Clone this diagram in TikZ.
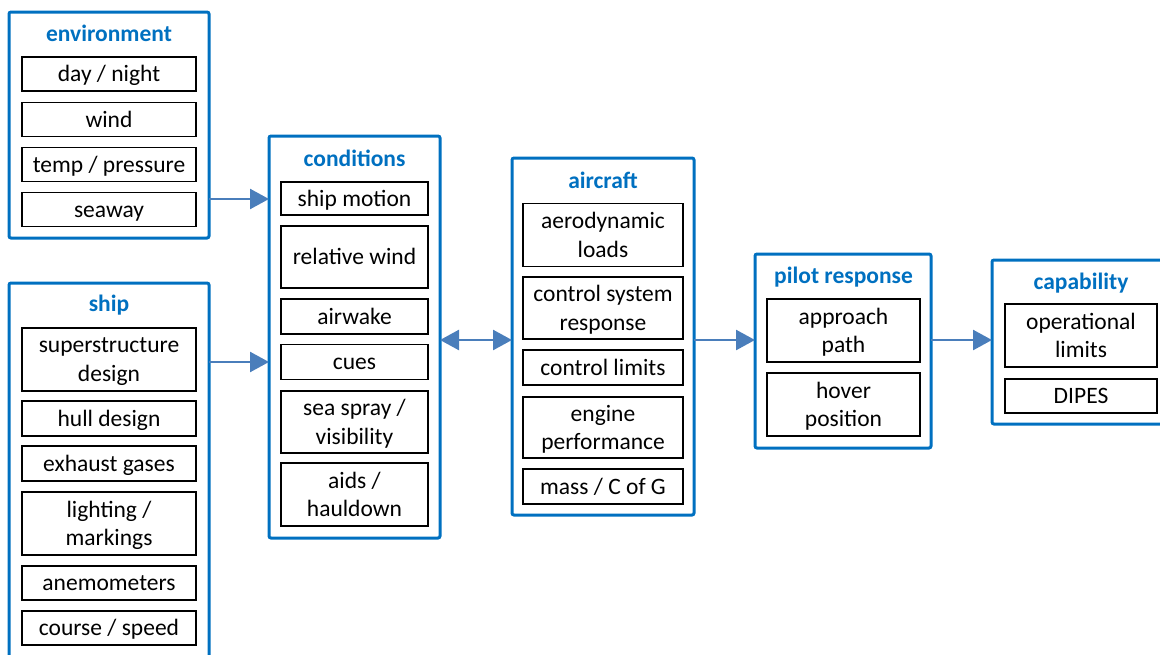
\documentclass[tikz,border=0pt]{standalone}
\usepackage{fontspec}
\setmainfont{Carlito}
\usetikzlibrary{arrows.meta}

\definecolor{boxblue}{RGB}{0,112,192}
\definecolor{arrowblue}{RGB}{74,126,187}
\newcommand{\bodysize}{\fontsize{23.5}{28.5}\selectfont}

\begin{document}
\begin{tikzpicture}[
    x=1pt, y=-1pt,
    group_style/.style={draw=boxblue, line width=3pt, rounded corners=2pt, anchor=north west, inner sep=0pt, outer sep=0pt},
    title_style/.style={font=\bodysize\bfseries, text=boxblue},
    item_style/.style={draw=black, line width=1.4pt, align=center, inner sep=0pt, font=\bodysize},
    one_line/.style={text height=17pt, text depth=2pt},
    two_line/.style={text depth=0pt},
    envitem/.style={item_style, minimum width=174pt},
    conditem/.style={item_style, minimum width=147pt},
    airitem/.style={item_style, minimum width=160pt},
    pilotitem/.style={item_style, minimum width=153pt},
    capitem/.style={item_style, minimum width=152pt},
    flow_style/.style={-{Triangle[length=19pt, width=20pt]}, line width=2.5pt, arrowblue},
    both_style/.style={{Triangle[length=19pt, width=20pt]}-{Triangle[length=19pt, width=20pt]}, line width=2.5pt, arrowblue}
]

    \useasboundingbox (0,0) rectangle (1160,654);
    \clip (0,0) rectangle (1160,654);

    % Environment
    \node[group_style, minimum width=200pt, minimum height=226pt] (env) at (9,12) {};
    \node[title_style] (envtitle) at (109,33) {environment};
    \node[envitem, one_line, minimum height=34pt] (daynight) at (109,74) {day / night};
    \node[envitem, one_line, minimum height=34pt] (wind) at (109,119.5) {wind};
    \node[envitem, one_line, minimum height=34pt] (temp) at (109,164.5) {temp / pressure};
    \node[envitem, one_line, minimum height=34pt] (seaway) at (109,209.5) {seaway};

    % Ship (runs past the bottom edge)
    \node[group_style, minimum width=200pt, minimum height=420pt] (ship) at (9,283) {};
    \node[title_style] (shiptitle) at (109,305) {ship};
    \node[envitem, two_line, minimum height=63pt] (super) at (109,359.5) {superstructure\\design};
    \node[envitem, one_line, minimum height=35pt] (hull) at (109,418.5) {hull design};
    \node[envitem, one_line, minimum height=35pt] (exhaust) at (109,463.5) {exhaust gases};
    \node[envitem, two_line, minimum height=63pt] (lighting) at (109,523.5) {lighting /\\markings};
    \node[envitem, one_line, minimum height=34pt] (anemo) at (109,583) {anemometers};
    \node[envitem, one_line, minimum height=34pt] (course) at (109,628) {course / speed};

    % Conditions
    \node[group_style, minimum width=171pt, minimum height=402pt] (cond) at (269,136) {};
    \node[title_style] (condtitle) at (354.5,158) {conditions};
    \node[conditem, one_line, minimum height=33pt] (motion) at (354.5,198.5) {ship motion};
    \node[conditem, one_line, minimum height=62pt] (relwind) at (354.5,257) {relative wind};
    \node[conditem, one_line, minimum height=35pt] (airwake) at (354.5,316.5) {airwake};
    \node[conditem, one_line, minimum height=35pt] (cues) at (354.5,362) {cues};
    \node[conditem, two_line, minimum height=62pt] (spray) at (354.5,422) {sea spray /\\visibility};
    \node[conditem, two_line, minimum height=63pt] (aids) at (354.5,494.5) {aids /\\hauldown};

    % Aircraft
    \node[group_style, minimum width=182pt, minimum height=357pt] (air) at (512,158) {};
    \node[title_style] (airtitle) at (603,180) {aircraft};
    \node[airitem, two_line, minimum height=63pt] (aero) at (603,235) {aerodynamic\\loads};
    \node[airitem, two_line, minimum height=62pt] (ctrlsys) at (603,308) {control system\\response};
    \node[airitem, one_line, minimum height=35pt] (ctrllim) at (603,367.5) {control limits};
    \node[airitem, two_line, minimum height=61pt] (engine) at (603,427.5) {engine\\performance};
    \node[airitem, one_line, minimum height=35pt] (mass) at (603,486.5) {mass / C of G};

    % Pilot response
    \node[group_style, minimum width=176pt, minimum height=194pt] (pilot) at (755,254) {};
    \node[title_style] (pilottitle) at (843.5,277) {pilot response};
    \node[pilotitem, two_line, minimum height=63pt] (approach) at (843.5,330.5) {approach\\path};
    \node[pilotitem, two_line, minimum height=63pt] (hover) at (843.5,404.5) {hover\\position};

    % Capability (runs past the right edge)
    \node[group_style, minimum width=220pt, minimum height=164pt] (cap) at (992,260) {};
    \node[title_style] (captitle) at (1081,283) {capability};
    \node[capitem, two_line, minimum height=63pt] (oplimits) at (1081,335.5) {operational\\limits};
    \node[capitem, one_line, minimum height=34pt] (dipes) at (1081,396) {DIPES};

    % Links
    \coordinate (row_env) at (0,199);
    \coordinate (row_ship) at (0,362);
    \coordinate (row_mid) at (0,340);
    \draw[flow_style] (env.east |- row_env) -- (cond.west |- row_env);
    \draw[flow_style] (ship.east |- row_ship) -- (cond.west |- row_ship);
    \draw[both_style] (cond.east |- row_mid) -- (air.west |- row_mid);
    \draw[flow_style] (air.east |- row_mid) -- (pilot.west |- row_mid);
    \draw[flow_style] (pilot.east |- row_mid) -- (cap.west |- row_mid);

\end{tikzpicture}
\end{document}
